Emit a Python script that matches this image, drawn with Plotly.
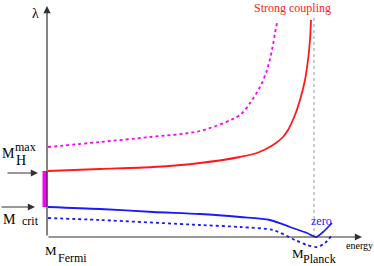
import plotly.graph_objects as go

# energy (arbitrary units from M_Fermi) and coupling lambda (arbitrary units)
red_e = [1, 53, 106, 153, 193, 210, 226, 236, 241, 248, 253, 258, 261, 263, 264]
red_l = [66, 68, 70, 74, 80, 84, 92, 100, 107, 122, 137, 157, 177, 197, 217]

mag_e = [1, 53, 103, 153, 193, 203, 213, 220, 225, 228, 230]
mag_l = [90, 95, 100, 106, 122, 134, 150, 167, 187, 204, 214]

blue_e = [1, 53, 106, 153, 193, 223, 243, 260, 269, 276, 285]
blue_l = [30, 28, 25, 23, 20, 17, 10, 4, 0, 5, 14]

bdot_e = [1, 53, 153, 193, 226, 248, 260, 270, 278, 285]
bdot_l = [19, 17, 12, 10, 7, -3, -8, -10, -6, 2]

planck_e = 267
bar_l = [30, 66]

fig = go.Figure()
fig.add_trace(go.Scatter(x=[-2, -2], y=bar_l, mode="lines",
                         line=dict(color="#ff00ff", width=5)))
fig.add_trace(go.Scatter(x=[planck_e, planck_e], y=[0, 222], mode="lines",
                         line=dict(color="#999999", width=1, dash="dot")))
fig.add_trace(go.Scatter(x=red_e, y=red_l, mode="lines",
                         line=dict(color="#ff1a1a", width=1.8, shape="spline", smoothing=0.8)))
fig.add_trace(go.Scatter(x=mag_e, y=mag_l, mode="lines",
                         line=dict(color="#ff00ff", width=1.8, dash="dot", shape="spline", smoothing=0.8)))
fig.add_trace(go.Scatter(x=blue_e, y=blue_l, mode="lines",
                         line=dict(color="#1a1aff", width=1.8, shape="spline", smoothing=0.8)))
fig.add_trace(go.Scatter(x=bdot_e, y=bdot_l, mode="lines",
                         line=dict(color="#1a1aff", width=1.8, dash="dot", shape="spline", smoothing=0.8)))

serif = "Liberation Serif, 'DejaVu Serif', serif"

def txt(x, y, s, size=12, color="#000000", xanchor="center"):
    fig.add_annotation(x=x, y=y, text=s, showarrow=False, xref="x", yref="y",
                       font=dict(family=serif, size=size, color=color),
                       xanchor=xanchor, yanchor="middle")

def arrow(x0, y0, x1, y1, width=1.2):
    fig.add_annotation(x=x1, y=y1, ax=x0, ay=y0, xref="x", yref="y",
                       axref="x", ayref="y", text="", showarrow=True,
                       arrowhead=2, arrowsize=1.2, arrowwidth=width,
                       arrowcolor="#333333")

# axes
arrow(0, 0, 0, 231)
arrow(0, 0, 315, 0)

# labels
txt(-12, 224, "λ", 14)
txt(245, 229, "Strong coupling", 12, "#ff1a1a")
txt(274, 16, "zero", 12, "#1a1aff")
txt(312, -8, "energy", 10)
txt(-39, 84, "M", 14)
txt(-22, 90, "max", 12)
txt(-26, 77, "H", 14)
arrow(-41, 64, -9, 64)
arrow(-47, 30, -12, 30)
txt(-38, 18, "M", 14)
txt(-17, 16, "crit", 12)
txt(4, -13, "M", 13)
txt(25, -21, "Fermi", 12)
txt(251, -16, "M", 13)
txt(272, -22, "Planck", 12)

fig.update_layout(
    width=374, height=266,
    margin=dict(l=0, r=0, t=0, b=0),
    paper_bgcolor="white", plot_bgcolor="white",
    showlegend=False,
    font=dict(family=serif),
    xaxis=dict(range=[-47, 327], visible=False, fixedrange=True),
    yaxis=dict(range=[-29, 237], visible=False, fixedrange=True),
)
fig.write_html("out.html", config={"displayModeBar": False},
               post_script="document.body.style.margin='0';document.body.style.overflow='hidden';")
